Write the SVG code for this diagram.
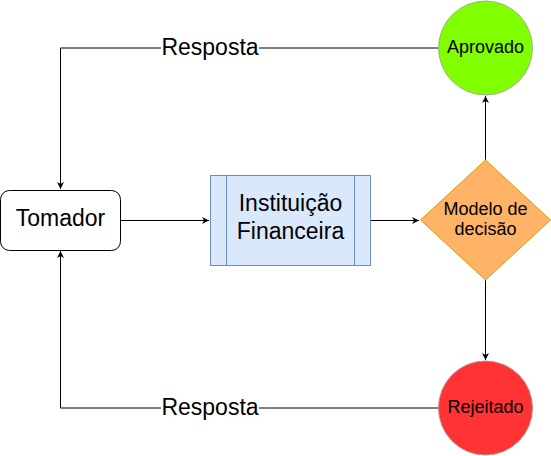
<svg xmlns="http://www.w3.org/2000/svg" width="551" height="456" viewBox="0 0 551 456">
<style>
.t{font-family:"Liberation Sans",Arial,sans-serif;fill:#000;text-anchor:middle}
.big{font-size:23px}
.sm{font-size:18px}
.c{fill:none;stroke:#000;stroke-width:1}
</style>
<defs>
<marker id="ah" viewBox="0 0 10 10" refX="10" refY="5" markerWidth="7" markerHeight="7" markerUnits="userSpaceOnUse" orient="auto">
<path d="M0,0 L10,5 L0,10 L3,5 Z" fill="#000"/>
</marker>
</defs>
<rect width="551" height="456" fill="#fff"/>
<g id="connectors">
<path class="c" d="M120,220.5 H209" marker-end="url(#ah)"/>
<path class="c" d="M370,220.5 H419" marker-end="url(#ah)"/>
<path class="c" d="M485.5,160 V96" marker-end="url(#ah)"/>
<path class="c" d="M485.5,280 V360" marker-end="url(#ah)"/>
<path class="c" d="M438,48 H60.5 V189" marker-end="url(#ah)"/>
<path class="c" d="M438,408 H60.5 V251" marker-end="url(#ah)"/>
<rect x="161" y="34" width="98" height="26" fill="#fff"/>
<text class="t big" x="210" y="55">Resposta</text>
<rect x="161" y="394" width="98" height="26" fill="#fff"/>
<text class="t big" x="210" y="415">Resposta</text>
</g>
<g id="tomador">
<rect x="0.5" y="190.5" width="120" height="60" rx="9" fill="#fff" stroke="#000"/>
<text class="t big" x="60.5" y="226">Tomador</text>
</g>
<g id="instituicao">
<rect x="210.5" y="175.5" width="160" height="90" fill="#dae8fc" stroke="#6c8ebf"/>
<path d="M226.5,175.5 V265.5 M354.5,175.5 V265.5" stroke="#6c8ebf" fill="none"/>
<text class="t big" x="290.5" y="211">Instituição</text>
<text class="t big" x="290.5" y="239">Financeira</text>
</g>
<g id="modelo">
<path d="M485.5,160 L550.5,220 L485.5,280 L420.5,220 Z" fill="#ffb366" stroke="#d79b00"/>
<text class="t sm" x="485.5" y="215">Modelo de</text>
<text class="t sm" x="485.5" y="235">decisão</text>
</g>
<g id="aprovado">
<circle cx="485.5" cy="48" r="47" fill="#80ff00" stroke="#a0b090"/>
<text class="t sm" x="485.5" y="53">Aprovado</text>
</g>
<g id="rejeitado">
<circle cx="485.5" cy="408" r="47" fill="#ff3333" stroke="#c09090"/>
<text class="t sm" x="485.5" y="413">Rejeitado</text>
</g>
</svg>
